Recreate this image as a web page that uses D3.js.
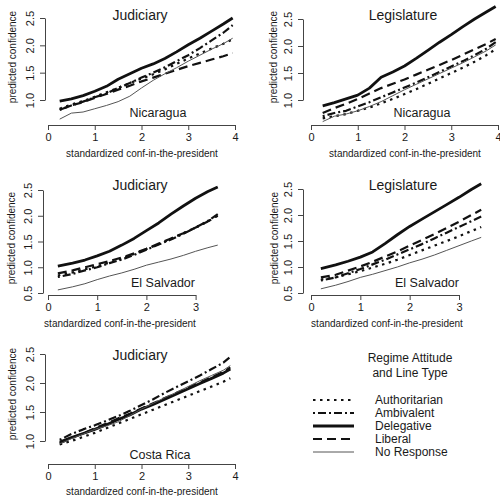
<!DOCTYPE html>
<html>
<head>
<meta charset="utf-8">
<script src="https://cdn.jsdelivr.net/npm/d3@7/dist/d3.min.js"></script>
<style>
  body { margin: 0; background: #fff; }
  svg text { font-family: "Liberation Sans", Arial, sans-serif; fill: #1a1a1a; }
  .axis path, .axis line { stroke: #444; }
  .axis text { font-size: 11px; fill: #1a1a1a; }
</style>
</head>
<body>
<div id="chart"></div>
<script>
// series order used by every panel
var regimes = ["Authoritarian", "Ambivalent", "Delegative", "Liberal", "No Response"];

// x positions of the predictions
var xNicaragua = [0.25, 0.5, 0.75, 1, 1.25, 1.5, 1.75, 2, 2.25, 2.5, 2.75, 3, 3.25, 3.5, 3.75, 3.95];
var xSalvador  = [0.2, 0.5, 0.75, 1, 1.25, 1.5, 1.75, 2, 2.25, 2.5, 2.75, 3, 3.25, 3.45];
var xCostaRica = [0.25, 0.5, 0.75, 1, 1.25, 1.5, 1.75, 2, 2.25, 2.5, 2.75, 3, 3.25, 3.5, 3.75, 3.9];

// predicted confidence, one row per regime (same order as regimes)
var nicaraguaJudiciary = [
  [0.84, 0.92, 0.98, 1.06, 1.14, 1.22, 1.31, 1.39, 1.47, 1.56, 1.66, 1.76, 1.85, 1.94, 2.03, 2.11],
  [0.82, 0.90, 0.97, 1.05, 1.12, 1.22, 1.31, 1.41, 1.50, 1.60, 1.71, 1.82, 1.95, 2.09, 2.23, 2.37],
  [0.98, 1.02, 1.08, 1.16, 1.25, 1.38, 1.48, 1.58, 1.66, 1.76, 1.88, 2.01, 2.13, 2.26, 2.39, 2.50],
  [0.82, 0.90, 0.96, 1.04, 1.11, 1.19, 1.26, 1.34, 1.41, 1.48, 1.55, 1.62, 1.68, 1.74, 1.80, 1.86],
  [0.65, 0.76, 0.78, 0.84, 0.90, 0.97, 1.07, 1.22, 1.36, 1.48, 1.59, 1.71, 1.82, 1.93, 2.03, 2.13]
];
var nicaraguaLegislature = [
  [0.66, 0.70, 0.74, 0.80, 0.86, 0.94, 1.02, 1.11, 1.20, 1.30, 1.40, 1.50, 1.60, 1.71, 1.83, 1.94],
  [0.70, 0.76, 0.80, 0.88, 0.96, 1.05, 1.14, 1.23, 1.32, 1.42, 1.52, 1.62, 1.72, 1.83, 1.95, 2.07],
  [0.89, 0.95, 1.02, 1.09, 1.22, 1.42, 1.52, 1.63, 1.77, 1.92, 2.07, 2.21, 2.36, 2.50, 2.63, 2.73],
  [0.76, 0.85, 0.93, 1.02, 1.12, 1.22, 1.30, 1.38, 1.47, 1.56, 1.65, 1.74, 1.84, 1.94, 2.04, 2.13],
  [0.60, 0.70, 0.74, 0.80, 0.88, 0.97, 1.08, 1.19, 1.29, 1.39, 1.49, 1.59, 1.69, 1.80, 1.91, 2.02]
];
var salvadorJudiciary = [
  [0.84, 0.90, 0.96, 1.02, 1.09, 1.17, 1.26, 1.35, 1.45, 1.55, 1.66, 1.77, 1.89, 2.01],
  [0.81, 0.87, 0.94, 1.00, 1.08, 1.15, 1.24, 1.34, 1.44, 1.54, 1.65, 1.77, 1.90, 2.03],
  [1.02, 1.08, 1.14, 1.22, 1.31, 1.43, 1.56, 1.71, 1.86, 2.03, 2.19, 2.34, 2.47, 2.56],
  [0.88, 0.94, 1.00, 1.06, 1.12, 1.19, 1.27, 1.36, 1.46, 1.56, 1.66, 1.77, 1.89, 2.00],
  [0.56, 0.62, 0.68, 0.76, 0.83, 0.89, 0.96, 1.04, 1.10, 1.16, 1.23, 1.31, 1.38, 1.43]
];
var salvadorLegislature = [
  [0.76, 0.80, 0.86, 0.92, 0.99, 1.06, 1.14, 1.23, 1.32, 1.41, 1.50, 1.59, 1.69, 1.77],
  [0.74, 0.80, 0.88, 0.96, 1.05, 1.14, 1.24, 1.34, 1.44, 1.55, 1.66, 1.77, 1.88, 1.97],
  [0.97, 1.04, 1.11, 1.19, 1.29, 1.45, 1.62, 1.78, 1.92, 2.06, 2.20, 2.34, 2.49, 2.60],
  [0.80, 0.85, 0.93, 1.01, 1.10, 1.20, 1.30, 1.41, 1.52, 1.63, 1.75, 1.87, 2.00, 2.10],
  [0.58, 0.65, 0.72, 0.80, 0.86, 0.93, 1.00, 1.08, 1.15, 1.23, 1.32, 1.41, 1.50, 1.57]
];
var costaRicaJudiciary = [
  [0.94, 1.00, 1.07, 1.14, 1.22, 1.30, 1.38, 1.46, 1.54, 1.62, 1.70, 1.78, 1.86, 1.94, 2.02, 2.08],
  [1.02, 1.12, 1.20, 1.27, 1.35, 1.43, 1.52, 1.62, 1.72, 1.83, 1.93, 2.03, 2.13, 2.24, 2.35, 2.45],
  [0.98, 1.06, 1.13, 1.20, 1.28, 1.37, 1.45, 1.55, 1.63, 1.72, 1.81, 1.90, 1.99, 2.08, 2.17, 2.24],
  [0.96, 1.05, 1.13, 1.22, 1.30, 1.39, 1.47, 1.56, 1.65, 1.74, 1.83, 1.92, 2.01, 2.10, 2.19, 2.27],
  [0.95, 1.04, 1.12, 1.20, 1.26, 1.33, 1.44, 1.55, 1.65, 1.75, 1.84, 1.94, 2.04, 2.13, 2.22, 2.30]
];

var xTicks4 = [0, 1, 2, 3, 4];
var xTicks3 = [0, 1, 2, 3];
var yTicksHigh = [1.0, 1.5, 2.0, 2.5];
var yTicksLow = [0.5, 1.0, 1.5, 2.0, 2.5];

// line style for each regime
var styles = {
  "Authoritarian": { width: 2.2, dash: "2.5,4.5", color: "#111" },
  "Ambivalent":    { width: 2.2, dash: "2,3,8,3", color: "#111" },
  "Delegative":    { width: 2.8, dash: null,      color: "#111" },
  "Liberal":       { width: 2.2, dash: "9,5",     color: "#111" },
  "No Response":   { width: 1,   dash: null,      color: "#555" }
};

// panel layout (pixel boxes)
var panels = [
  { title: "Judiciary", country: "Nicaragua", xs: xNicaragua, ys: nicaraguaJudiciary,
    xDom: [0, 4], xRange: [48, 235], yDom: [1, 2.5], yRange: [100, 18], xTicks: xTicks4, yTicks: yTicksHigh,
    axisX: 45, axisY: 125, titlePos: [140, 15], countryPos: [158, 113], xlabPos: [142, 153], ylabPos: [12, 57] },
  { title: "Legislature", country: "Nicaragua", xs: xNicaragua, ys: nicaraguaLegislature,
    xDom: [0, 4], xRange: [311, 498], yDom: [1, 2.5], yRange: [100, 19], xTicks: xTicks4, yTicks: yTicksHigh,
    axisX: 303, axisY: 125, titlePos: [403, 15], countryPos: [422, 113], xlabPos: [405, 153], ylabPos: [273, 57] },
  { title: "Judiciary", country: "El Salvador", xs: xSalvador, ys: salvadorJudiciary,
    xDom: [0, 3], xRange: [48, 195.6], yDom: [0.5, 2.5], yRange: [293, 190], xTicks: xTicks3, yTicks: yTicksLow,
    axisX: 43, axisY: 295, titlePos: [140, 185], countryPos: [163, 283], xlabPos: [120, 323], ylabPos: [11, 238] },
  { title: "Legislature", country: "El Salvador", xs: xSalvador, ys: salvadorLegislature,
    xDom: [0, 3], xRange: [311, 459], yDom: [0.5, 2.5], yRange: [293, 189], xTicks: xTicks3, yTicks: yTicksLow,
    axisX: 303, axisY: 295, titlePos: [403, 185], countryPos: [427, 283], xlabPos: [387, 323], ylabPos: [274, 238] },
  { title: "Judiciary", country: "Costa Rica", xs: xCostaRica, ys: costaRicaJudiciary,
    xDom: [0, 4], xRange: [48, 235], yDom: [1, 2.5], yRange: [441, 354], xTicks: xTicks4, yTicks: yTicksHigh,
    axisX: 45, axisY: 464, titlePos: [140, 355], countryPos: [160, 455], xlabPos: [142, 491], ylabPos: [12, 394] }
];

var svg = d3.select("#chart")
  .append("svg")
    .attr("width", 500)
    .attr("height", 496);

panels.forEach(function(p){
  var x = d3.scaleLinear().domain(p.xDom).range(p.xRange);
  var y = d3.scaleLinear().domain(p.yDom).range(p.yRange);
  var g = svg.append("g");

  // x axis
  g.append("g")
    .attr("class", "axis")
    .attr("transform", "translate(0," + p.axisY + ")")
    .call(d3.axisBottom(x).tickValues(p.xTicks).tickSize(5).tickSizeOuter(0).tickFormat(d3.format("d")));

  // y axis, labels rotated like R
  var ya = g.append("g")
    .attr("class", "axis")
    .attr("transform", "translate(" + p.axisX + ",0)")
    .call(d3.axisLeft(y).tickValues(p.yTicks).tickSize(5).tickSizeOuter(0).tickFormat(d3.format(".1f")));
  ya.selectAll("text")
    .attr("x", 0)
    .attr("dy", 0)
    .attr("text-anchor", "middle")
    .attr("transform", "translate(-11,0) rotate(-90)");

  // lines
  var line = d3.line()
    .x(function(d, i){ return x(p.xs[i]); })
    .y(function(d){ return y(d); });

  p.ys.forEach(function(vals, k){
    var s = styles[regimes[k]];
    g.append("path")
      .datum(vals)
      .attr("fill", "none")
      .attr("stroke", s.color)
      .attr("stroke-width", s.width)
      .attr("stroke-dasharray", s.dash)
      .attr("stroke-linejoin", "round")
      .attr("d", line);
  });

  g.append("text")
    .attr("x", p.titlePos[0]).attr("y", p.titlePos[1])
    .attr("dy", "0.35em")
    .attr("text-anchor", "middle")
    .style("font-size", "14px")
    .text(p.title);

  g.append("text")
    .attr("x", p.countryPos[0]).attr("y", p.countryPos[1])
    .attr("dy", "0.35em")
    .attr("text-anchor", "middle")
    .style("font-size", "12.5px")
    .text(p.country);

  g.append("text")
    .attr("x", p.xlabPos[0]).attr("y", p.xlabPos[1])
    .attr("dy", "0.35em")
    .attr("text-anchor", "middle")
    .style("font-size", "10px")
    .text("standardized conf-in-the-president");

  g.append("text")
    .attr("transform", "translate(" + p.ylabPos[0] + "," + p.ylabPos[1] + ") rotate(-90)")
    .attr("dy", "0.35em")
    .attr("text-anchor", "middle")
    .style("font-size", "10px")
    .text("predicted confidence");
});

// legend
var legend = svg.append("g");
legend.append("text")
  .attr("x", 410).attr("y", 358).attr("dy", "0.35em")
  .attr("text-anchor", "middle").style("font-size", "12px")
  .text("Regime Attitude");
legend.append("text")
  .attr("x", 410).attr("y", 373).attr("dy", "0.35em")
  .attr("text-anchor", "middle").style("font-size", "12px")
  .text("and Line Type");

var item = legend.selectAll(".item")
  .data(regimes)
  .enter().append("g")
    .attr("class", "item")
    .attr("transform", function(d, i){ return "translate(0," + (400 + i * 13) + ")"; });

item.append("line")
  .attr("x1", 313).attr("x2", 354)
  .attr("stroke", function(d){ return styles[d].color; })
  .attr("stroke-width", function(d){ return styles[d].width; })
  .attr("stroke-dasharray", function(d){ return styles[d].dash; });

item.append("text")
  .attr("x", 375).attr("dy", "0.35em")
  .style("font-size", "12px")
  .text(function(d){ return d; });
</script>
</body>
</html>
